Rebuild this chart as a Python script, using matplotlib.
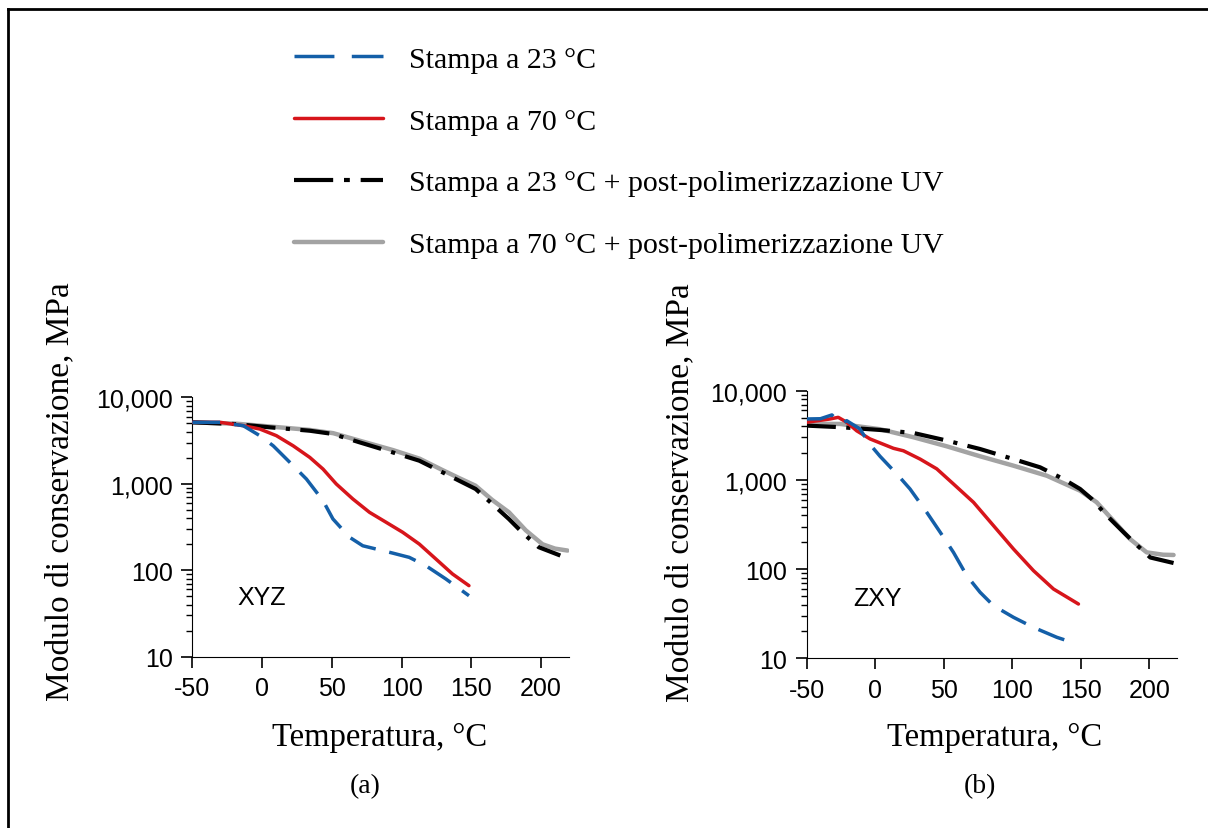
import matplotlib
matplotlib.use('Agg')
import matplotlib.pyplot as plt
from matplotlib.lines import Line2D
from matplotlib.ticker import FuncFormatter, LogLocator, NullFormatter

plt.rcParams['axes.unicode_minus'] = False

# curve (temperatura in °C, modulo in MPa)

# (a) XYZ
t23_a = [-50, -30, -13.5, -1.6, 8, 22.3, 31.8, 43.7, 50.8, 62.7, 72.2, 93.6, 105.5, 117.4, 131.7, 148.3]
e23_a = [5140, 5140, 4700, 3600, 2750, 1620, 1135, 638, 392, 241, 192, 158, 141, 113, 79.4, 50.8]
t70_a = [-50, -30, -13.5, -1.6, 10.3, 22.3, 34.2, 43.7, 53.2, 65.1, 77, 88.9, 100.8, 112.7, 124.6, 136.5, 148.3]
e70_a = [5140, 5140, 4700, 4300, 3600, 2750, 2020, 1480, 995, 667, 468, 359, 275, 201, 135, 90.6, 66.4]
t23uv_a = [-50, -18.3, 5.5, 34.2, 50.8, 69.8, 93.6, 112.7, 129.3, 141.2, 153.1, 165, 176.9, 186.4, 198.3, 213.8]
e23uv_a = [5140, 4900, 4500, 4110, 3770, 3020, 2310, 1850, 1360, 1087, 871, 585, 392, 275, 185, 148]
t70uv_a = [-50, -18, 5.5, 34, 51, 70, 94, 113, 129, 141, 153, 165, 177, 189, 201, 210, 219]
e70uv_a = [5140, 4950, 4600, 4200, 3850, 3150, 2450, 1950, 1450, 1170, 951, 650, 468, 290, 200, 178, 169]

# (b) ZXY
t23_b = [-50, -40, -31.6, -28, -24, -20.8, -11.1, -5, 3.5, 16.9, 25.4, 37.6, 47.4, 57.1, 66.8, 76.5, 86.3, 100.9, 115.5, 132.5, 147.1]
e23_b = [4820, 4850, 5350, 4700, 4300, 4610, 3720, 2630, 1840, 1114, 791, 433, 259, 154, 84.4, 55, 38.9, 28.8, 22.2, 17.2, 14.5]
t70_b = [-50, -33, -27, -20.8, -13.5, -3.8, 13.3, 20.6, 32.8, 44.9, 57.1, 71.7, 86.3, 100.9, 115.5, 130.1, 148.3]
e70_b = [4430, 4820, 5030, 4430, 3550, 2880, 2260, 2120, 1710, 1330, 900, 561, 307, 168, 96, 59.8, 40.6]
t23uv_b = [-50, -25.6, 3.5, 27.8, 52.2, 76.5, 100.9, 120.3, 137.3, 149.5, 158, 169, 181.2, 190.9, 200.7, 217.7]
e23uv_b = [4060, 3900, 3630, 3360, 2760, 2220, 1710, 1384, 1023, 791, 611, 398, 259, 186, 135, 117]
t70uv_b = [-50, -25.6, 3.5, 27.8, 52.2, 76.5, 100.9, 125.2, 149.5, 161.6, 173.8, 186, 198.1, 210, 217.7]
e70uv_b = [4250, 4240, 3700, 3010, 2380, 1840, 1443, 1114, 757, 561, 349, 217, 154, 145, 144]

labels = ['Stampa a 23 °C', 'Stampa a 70 °C',
          'Stampa a 23 °C + post-polimerizzazione UV',
          'Stampa a 70 °C + post-polimerizzazione UV']
xticks = [-50, 0, 50, 100, 150, 200]

serif = 'Liberation Serif'
sans = 'Liberation Sans'

c23 = '#145fa8'
c70 = '#d7151b'
cuv70 = '#a3a3a3'

fig = plt.figure(figsize=(12.08, 8.29), dpi=100)
ax1 = fig.add_axes([0.1592, 0.2066, 0.3118, 0.3129])
ax2 = fig.add_axes([0.6678, 0.2047, 0.3063, 0.3228])


def disegna(ax, dati, nome, pos):
    (t23, e23), (t70, e70), (t23uv, e23uv), (t70uv, e70uv) = dati
    ax.plot(t70uv, e70uv, color=cuv70, lw=3.2, solid_capstyle='round', zorder=2)
    ax.plot(t23uv, e23uv, color='black', lw=3.0, ls=(0, (7, 2.5, 1, 2.5)), zorder=3)
    ax.plot(t70, e70, color=c70, lw=2.5, solid_capstyle='round', zorder=4)
    ax.plot(t23, e23, color=c23, lw=2.5, ls=(0, (8, 4)), zorder=5)
    ax.set_yscale('log')
    ax.set_ylim(10, 10000)
    ax.set_xlim(-50, 220)
    ax.set_xticks(xticks)
    ax.yaxis.set_major_locator(LogLocator(base=10))
    ax.yaxis.set_minor_locator(LogLocator(base=10, subs=range(2, 10)))
    ax.yaxis.set_minor_formatter(NullFormatter())
    ax.yaxis.set_major_formatter(FuncFormatter(lambda v, p: f'{int(round(v)):,}'))
    ax.spines['top'].set_visible(False)
    ax.spines['right'].set_visible(False)
    ax.tick_params(which='major', direction='out', length=8, width=1.2, labelsize=18, pad=6)
    ax.tick_params(which='minor', direction='out', length=4, width=1.0)
    for lab in ax.get_xticklabels() + ax.get_yticklabels():
        lab.set_fontfamily(sans)
    ax.text(pos[0], pos[1], nome, fontsize=18, family=sans, ha='center', va='center')
    ax.set_ylabel('Modulo di conservazione, MPa', fontsize=24, family=serif)
    ax.set_xlabel('Temperatura, °C', fontsize=23.5, family=serif)


disegna(ax1, [(t23_a, e23_a), (t70_a, e70_a), (t23uv_a, e23uv_a), (t70uv_a, e70uv_a)], 'XYZ', (0, 49))
disegna(ax2, [(t23_b, e23_b), (t70_b, e70_b), (t23uv_b, e23uv_b), (t70uv_b, e70uv_b)], 'ZXY', (2, 48))

ax1.yaxis.set_label_coords(-0.351, 0.639)
ax2.yaxis.set_label_coords(-0.342, 0.621)
ax1.yaxis.label.set_verticalalignment('center')
ax2.yaxis.label.set_verticalalignment('center')
ax1.xaxis.set_label_coords(0.498, -0.31)
ax2.xaxis.set_label_coords(0.509, -0.294)
ax1.xaxis.label.set_verticalalignment('center')
ax2.xaxis.label.set_verticalalignment('center')

fig.text(365 / 1208, 1 - 787 / 829, '(a)', fontsize=20, family=serif, ha='center', va='center')
fig.text(980 / 1208, 1 - 787 / 829, '(b)', fontsize=20, family=serif, ha='center', va='center')

# legenda con tratteggi un po' piu' lunghi, come nell'originale
handles = [
    Line2D([], [], color=c23, lw=2.5, ls=(0, (11.5, 5))),
    Line2D([], [], color=c70, lw=2.5, solid_capstyle='round'),
    Line2D([], [], color='black', lw=3.0, ls=(0, (9.4, 2.6, 1.4, 2.6))),
    Line2D([], [], color=cuv70, lw=3.2, solid_capstyle='round'),
]
fig.legend(handles, labels, loc='upper left',
           bbox_to_anchor=(267 / 1208, 1 - 20 / 829), frameon=False,
           prop={'family': serif, 'size': 21.5}, handlelength=3.0,
           handletextpad=0.84, labelspacing=1.17)

# cornice
fig.add_artist(Line2D([8 / 1208, 8 / 1208], [0, 1 - 10 / 829], transform=fig.transFigure, color='black', lw=2))
fig.add_artist(Line2D([8 / 1208, 1], [1 - 10 / 829, 1 - 10 / 829], transform=fig.transFigure, color='black', lw=2))

fig.savefig('out.png', dpi=100)
